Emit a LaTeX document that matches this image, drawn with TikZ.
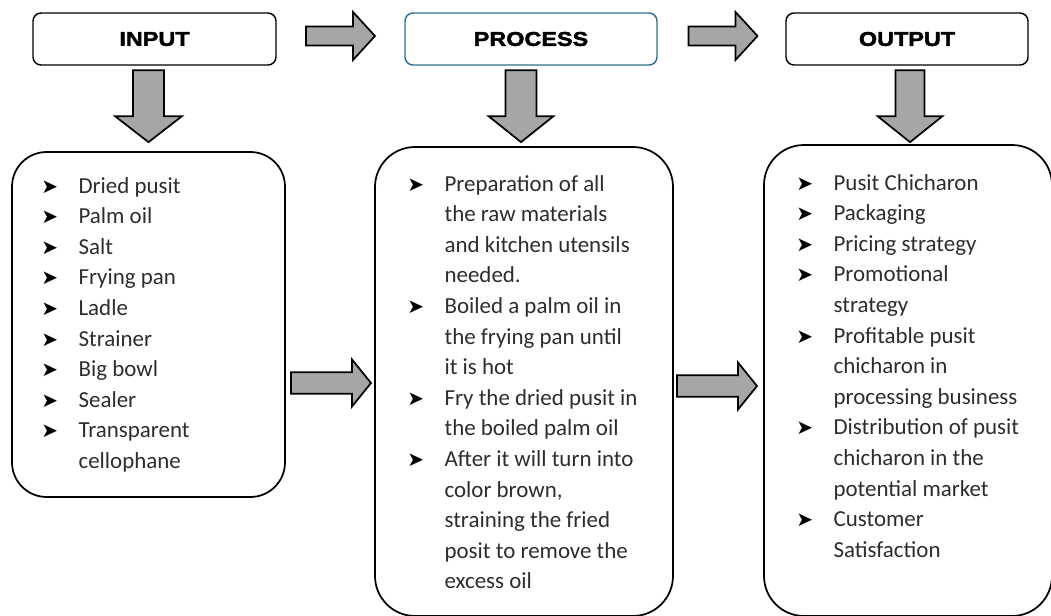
\documentclass[tikz,border=0pt]{standalone}
\usepackage{fontspec}
\setmainfont{Carlito}
\newfontfamily\headfont{Liberation Sans}[FakeStretch=1.17,BoldFeatures={FakeBold=2}]
\newfontfamily\bltfont{DejaVu Sans}
\usetikzlibrary{calc}

\definecolor{procblue}{RGB}{46,111,142}
\definecolor{arrowgray}{RGB}{166,166,166}
\definecolor{listtext}{RGB}{45,45,45}

\newcommand{\blt}{\makebox[28pt][l]{\raisebox{0pt}[0pt][0pt]{\bltfont\color{black}\fontsize{15}{15}\selectfont ➤}}}

% block arrow: #1 centre, #2 angle, #3 length, #4 shaft, #5 head width, #6 head length
\newcommand{\blockarrow}[6]{%
  \draw[blockarrow, shift={(#1)}, rotate=#2]
    (-#3/2,-#4/2) -- (#3/2-#6,-#4/2) -- (#3/2-#6,-#5/2) -- (#3/2,0)
    -- (#3/2-#6,#5/2) -- (#3/2-#6,#4/2) -- (-#3/2,#4/2) -- cycle;}

\tikzset{
  headbox/.style={draw=black, line width=1.1pt, rounded corners=6pt, inner sep=0pt,
    minimum height=39pt, font=\headfont\bfseries\fontsize{15}{18}\selectfont},
  listbox/.style={draw=black, line width=1.3pt, inner sep=0pt},
  listtxt/.style={anchor=north west, inner sep=0pt, text=listtext,
    font=\fontsize{17.2}{22.95}\selectfont},
  blockarrow/.style={draw=black, fill=arrowgray, line width=1.3pt, line join=miter},
}

\begin{document}
\begin{tikzpicture}[x=0.75pt,y=-0.75pt]
  \clip (0,0) rectangle (1051,615);

  % heading boxes
  \node[headbox, minimum width=182.25pt] (inhead) at (154.5,39) {INPUT};
  \node[headbox, draw=procblue, minimum width=189pt] (prochead) at (531,39) {PROCESS};
  \node[headbox, minimum width=181.5pt] (outhead) at (907,39) {OUTPUT};

  % list boxes
  \node[listbox, rounded corners=26pt, minimum width=204.75pt, minimum height=258.75pt] (inbox) at (148.5,324.5) {};
  \node[listbox, rounded corners=30pt, minimum width=223.5pt, minimum height=351.75pt] (procbox) at (524,381.5) {};
  \node[listbox, rounded corners=30pt, minimum width=216pt, minimum height=353.25pt] (outbox) at (908,380.5) {};

  \node[listtxt] (inlist) at (41,171.5) {%
    \begin{tabular}{@{}l@{}l@{}}
      \blt & Dried pusit\\
      \blt & Palm oil\\
      \blt & Salt\\
      \blt & Frying pan\\
      \blt & Ladle\\
      \blt & Strainer\\
      \blt & Big bowl\\
      \blt & Sealer\\
      \blt & Transparent\\
           & cellophane
    \end{tabular}};
  \node[listtxt] (proclist) at (407,169.5) {%
    \begin{tabular}{@{}l@{}l@{}}
      \blt & Preparation of all\\
           & the raw materials\\
           & and kitchen utensils\\
           & needed.\\
      \blt & Boiled a palm oil in\\
           & the frying pan until\\
           & it is hot\\
      \blt & Fry the dried pusit in\\
           & the boiled palm oil\\
      \blt & After it will turn into\\
           & color brown,\\
           & straining the fried\\
           & posit to remove the\\
           & excess oil
    \end{tabular}};
  \node[listtxt] (outlist) at (796,168.5) {%
    \begin{tabular}{@{}l@{}l@{}}
      \blt & Pusit Chicharon\\
      \blt & Packaging\\
      \blt & Pricing strategy\\
      \blt & Promotional\\
           & strategy\\
      \blt & Profitable pusit\\
           & chicharon in\\
           & processing business\\
      \blt & Distribution of pusit\\
           & chicharon in the\\
           & potential market\\
      \blt & Customer\\
           & Satisfaction
    \end{tabular}};

  % arrow positions
  \coordinate (harrow1) at ($(inhead.east)!.5!(prochead.west)+(0,-3)$);
  \coordinate (harrow2) at ($(prochead.east)!.5!(outhead.west)+(1.5,-3)$);
  \coordinate (darrow1) at ($(inbox.north)+(0,-45)$);
  \coordinate (darrow2) at ($(procbox.north)+(-3,-40)$);
  \coordinate (darrow3) at ($(outbox.north)+(2,-38)$);
  \coordinate (larrow1) at ($(inbox.east)!.5!(procbox.west)+(1,30)$);
  \coordinate (larrow2) at ($(procbox.east)!.5!(outbox.west)+(-1.5,5)$);

  % arrows between the headings
  \blockarrow{harrow1}{0}{69}{19}{48}{22}
  \blockarrow{harrow2}{0}{69}{19}{48}{22}
  % arrows down to the lists
  \blockarrow{darrow1}{-90}{72}{31}{67}{26}
  \blockarrow{darrow2}{-90}{72}{31}{65}{26}
  \blockarrow{darrow3}{-90}{72}{29}{65}{26}
  % arrows between the lists
  \blockarrow{larrow1}{0}{80}{21.5}{47}{19}
  \blockarrow{larrow2}{0}{80}{21.5}{47}{19}
\end{tikzpicture}
\end{document}
